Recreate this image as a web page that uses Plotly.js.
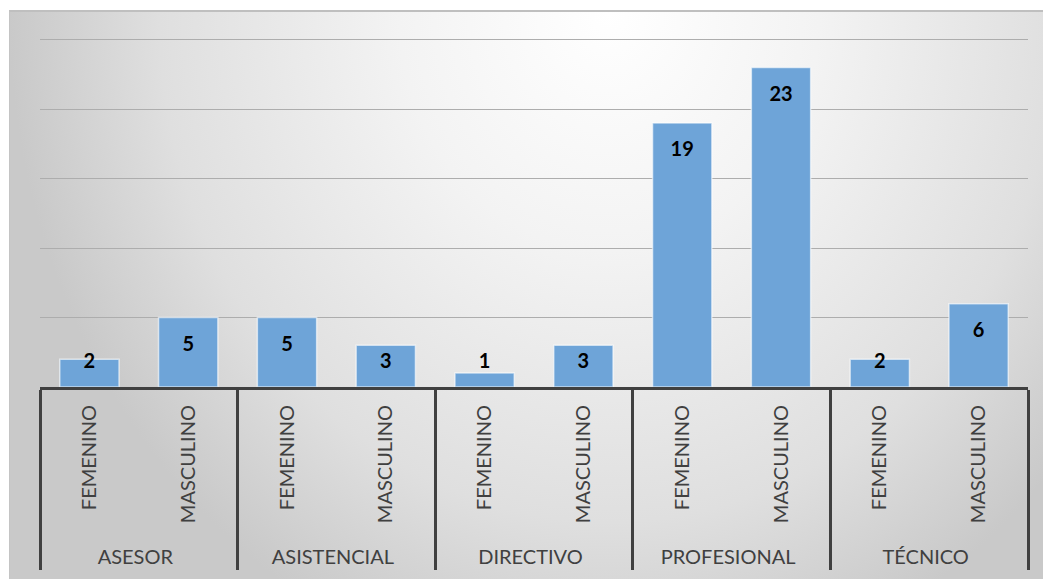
<!DOCTYPE html>
<html>
<head>
<meta charset="utf-8">
<script src="https://cdn.plot.ly/plotly-3.0.1.min.js"></script>
<style>
  html, body { margin: 0; padding: 0; background: #ffffff; }
  #bg {
    position: absolute; left: 9px; top: 10px; width: 1034px; height: 569px;
    box-sizing: border-box;
    border-top: 2px solid #bfbfbf; border-left: 1px solid #c4c4c4;
    background: radial-gradient(ellipse 600px 680px at 58% 0%, #ffffff 0%, #f3f3f3 35%, #dfdfdf 75%, #c9c9c9 100%);
  }
  #chart { position: absolute; left: 0; top: 0; width: 1043px; height: 579px; }
</style>
</head>
<body>
<div id="bg"></div>
<div id="chart"></div>
<script>
// Data
const groups = ['ASESOR', 'ASISTENCIAL', 'DIRECTIVO', 'PROFESIONAL', 'TÉCNICO'];
const genders = ['FEMENINO', 'MASCULINO'];
const femenino = [2, 5, 1, 19, 2];
const masculino = [5, 3, 3, 23, 6];

// Build multicategory arrays (inner labels padded so the outer row sits lower)
const pad = '\u00a0\u00a0';
const xOuter = [], xInner = [], yVals = [];
groups.forEach((g, i) => {
  xOuter.push(g, g);
  xInner.push(pad + genders[0], pad + genders[1]);
  yVals.push(femenino[i], masculino[i]);
});

const H = 579, mt = 37, mb = 192;
const yMax = 25.2;
const pxPerUnit = (H - mt - mb) / yMax;
// label centre: ~28px below bar top, but never lower than ~24px above axis
const labelY = yVals.map(v => v - Math.min(28, v * pxPerUnit - 24) / pxPerUnit);

const bars = {
  type: 'bar',
  x: [xOuter, xInner],
  y: yVals,
  marker: { color: '#6ea4d8', line: { color: 'rgba(255,255,255,0.6)', width: 1.5 } },
  hoverinfo: 'y'
};

const labels = {
  type: 'scatter',
  mode: 'text',
  x: [xOuter, xInner],
  y: labelY,
  text: yVals.map(String),
  textposition: 'middle center',
  textfont: { family: 'Lato, sans-serif', size: 20, color: '#000000', weight: 'bold' },
  hoverinfo: 'skip',
  cliponaxis: false
};

const layout = {
  width: 1043, height: H,
  margin: { l: 40, r: 15, t: mt, b: mb },
  paper_bgcolor: 'rgba(0,0,0,0)',
  plot_bgcolor: 'rgba(0,0,0,0)',
  showlegend: false,
  bargap: 0.4,
  font: { family: 'Lato, sans-serif', color: '#404040', size: 20 },
  xaxis: {
    type: 'multicategory',
    tickangle: -90,
    ticklabelstandoff: 7,
    showline: true, linecolor: '#404040', linewidth: 3,
    showdividers: true, dividercolor: '#404040', dividerwidth: 3,
    ticks: '',
    showgrid: false,
    tickfont: { family: 'Lato, sans-serif', size: 20, color: '#404040' }
  },
  yaxis: {
    range: [0, yMax], dtick: 5,
    showticklabels: false, ticks: '',
    showgrid: true, gridcolor: '#adadad', gridwidth: 1,
    zeroline: false, showline: false
  }
};

Plotly.newPlot('chart', [bars, labels], layout, { displayModeBar: false, staticPlot: true });
</script>
</body>
</html>
